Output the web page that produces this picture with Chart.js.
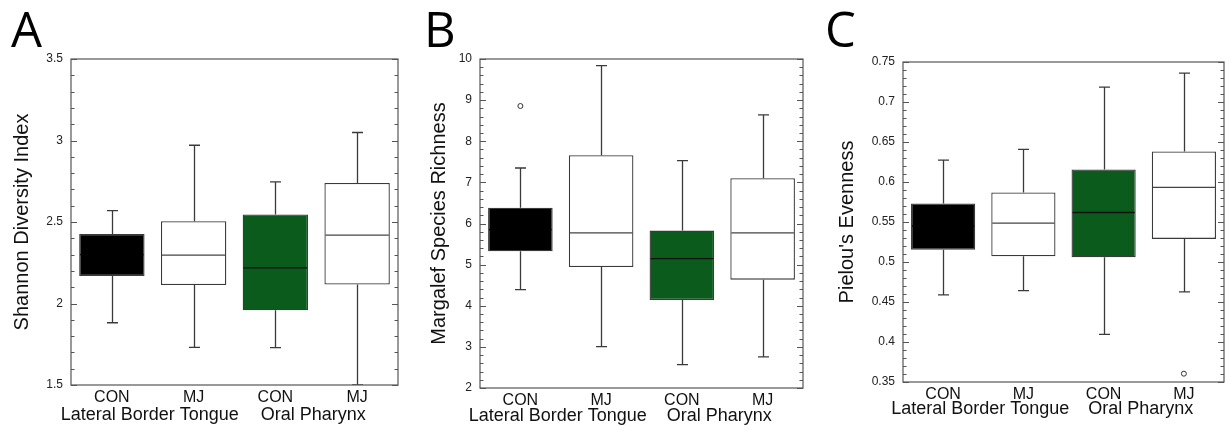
<!DOCTYPE html>
<html>
<head>
<meta charset="utf-8">
<script src="https://cdn.jsdelivr.net/npm/chart.js@4.4.1/dist/chart.umd.min.js"></script>
<style>
  html, body { margin: 0; padding: 0; background: #fff; }
  #wrap { position: relative; width: 1232px; height: 431px; }
  .panel { position: absolute; top: 0; height: 431px; }
</style>
</head>
<body>
<div id="wrap">
  <div class="panel" style="left:0;width:410px"><canvas id="chartA"></canvas></div>
  <div class="panel" style="left:410px;width:410px"><canvas id="chartB"></canvas></div>
  <div class="panel" style="left:820px;width:412px"><canvas id="chartC"></canvas></div>
</div>
<script>
// categorias y grupos
const categories = ['CON', 'MJ', 'CON', 'MJ'];
const groups = ['Lateral Border Tongue', 'Oral Pharynx'];
const boxColors = ['#000000', '#ffffff', '#0b5c1c', '#ffffff'];
const medianColors = ['#000000', '#444444', '#111111', '#444444'];

// A - Shannon
const shannonLow = [1.882, 1.731, 1.729, 1.50];
const shannonQ1 = [2.168, 2.113, 1.958, 2.117];
const shannonMedian = [2.30, 2.297, 2.219, 2.419];
const shannonQ3 = [2.427, 2.505, 2.546, 2.740];
const shannonHigh = [2.570, 2.971, 2.746, 3.049];
const shannonOutliers = [null, null, null, null];
const shannonTicks = [1.5, 3.5, 0.5, 0.1]; // min, max, paso, paso menor

// B - Margalef
const richLow = [4.392, 3.007, 2.569, 2.755];
const richQ1 = [5.324, 4.943, 4.141, 4.635];
const richMedian = [5.85, 5.77, 5.146, 5.77];
const richQ3 = [6.386, 7.658, 5.827, 7.099];
const richHigh = [7.35, 9.838, 7.528, 8.639];
const richOutliers = [8.857, null, null, null];
const richTicks = [2, 10, 1, 0.2];

// C - Pielou
const evenLow = [0.4589, 0.4643, 0.4096, 0.4626];
const evenQ1 = [0.5152, 0.5072, 0.5060, 0.5289];
const evenMedian = [0.545, 0.5485, 0.5619, 0.5932];
const evenQ3 = [0.5731, 0.5869, 0.6157, 0.6382];
const evenHigh = [0.6274, 0.6407, 0.7187, 0.7362];
const evenOutliers = [null, null, null, 0.3604];
const evenTicks = [0.35, 0.75, 0.05, 0.01];

const FONT = '"Liberation Sans", Arial, Helvetica, sans-serif';

// bigotes, medianas, marco y etiquetas de grupo
const boxExtras = {
    id: 'boxExtras',
    afterDatasetsDraw(chart, args, o) {
        const { ctx, chartArea: a, scales: { x, y } } = chart;
        const meta = chart.getDatasetMeta(0);
        ctx.save();

        ctx.save();
        ctx.beginPath();
        ctx.rect(a.left, a.top, a.right - a.left, a.bottom - a.top);
        ctx.clip();
        ctx.lineWidth = 1.3;
        o.q1.forEach((q1, i) => {
            const cx = Math.round(x.getPixelForValue(i)) + 0.5;
            const yLo = y.getPixelForValue(o.low[i]);
            const yQ1 = y.getPixelForValue(q1);
            const yQ3 = y.getPixelForValue(o.q3[i]);
            const yHi = y.getPixelForValue(o.high[i]);
            ctx.strokeStyle = '#3a3a3a';
            ctx.beginPath();
            ctx.moveTo(cx, yQ3); ctx.lineTo(cx, yHi);
            ctx.moveTo(cx - 5.5, yHi); ctx.lineTo(cx + 5.5, yHi);
            ctx.moveTo(cx, yQ1); ctx.lineTo(cx, yLo);
            ctx.moveTo(cx - 5.5, yLo); ctx.lineTo(cx + 5.5, yLo);
            ctx.stroke();
            const bar = meta.data[i];
            const ym = y.getPixelForValue(o.median[i]);
            ctx.strokeStyle = medianColors[i];
            ctx.beginPath();
            ctx.moveTo(bar.x - bar.width / 2 + 1, ym);
            ctx.lineTo(bar.x + bar.width / 2 - 1, ym);
            ctx.stroke();
        });
        ctx.restore();

        // marco
        ctx.strokeStyle = '#555';
        ctx.lineWidth = 1.2;
        ctx.strokeRect(a.left, a.top, a.right - a.left, a.bottom - a.top);

        // marcas hacia dentro
        ctx.beginPath();
        const n = Math.round((y.max - y.min) / o.minor);
        for (let k = 0; k <= n; k++) {
            const v = y.min + k * o.minor;
            const py = Math.round(y.getPixelForValue(v)) + 0.5;
            const r = v / o.major;
            const len = Math.abs(r - Math.round(r)) < 1e-6 ? 6 : 3.5;
            ctx.moveTo(a.left, py); ctx.lineTo(a.left + len, py);
            ctx.moveTo(a.right, py); ctx.lineTo(a.right - len, py);
        }
        ctx.stroke();

        // grupos
        ctx.fillStyle = '#111';
        ctx.font = '18px ' + FONT;
        ctx.textAlign = 'center';
        ctx.textBaseline = 'alphabetic';
        groups.forEach((g, j) => {
            const gx = (x.getPixelForValue(2 * j) + x.getPixelForValue(2 * j + 1)) / 2;
            ctx.fillText(g, gx - 3, a.bottom + o.groupOffset);
        });

        // letra del panel
        ctx.fillStyle = '#000';
        ctx.font = '400 49px "Open Sans", ' + FONT;
        ctx.textAlign = 'left';
        ctx.fillText(o.letter, o.letterX, 47);
        ctx.restore();
    }
};

function crearPanel(id, p) {
    const ctx = document.getElementById(id).getContext('2d');
    return new Chart(ctx, {
        type: 'bar',
        data: {
            labels: categories,
            datasets: [{
                data: p.q1.map((v, i) => [v, p.q3[i]]),
                backgroundColor: boxColors,
                borderColor: '#3a3a3a',
                borderWidth: 1.3,
                borderSkipped: false,
                barPercentage: 0.8,
                categoryPercentage: 1.0
            }, {
                type: 'line',
                data: p.outliers,
                showLine: false,
                pointRadius: 2.5,
                pointBackgroundColor: '#fff',
                pointBorderColor: '#333',
                pointBorderWidth: 1
            }]
        },
        options: {
            responsive: true,
            maintainAspectRatio: false,
            animation: false,
            events: [],
            layout: { padding: { top: p.top, right: p.right, left: 0, bottom: 0 } },
            plugins: {
                legend: { display: false },
                tooltip: { enabled: false },
                boxExtras: {
                    low: p.low, q1: p.q1, median: p.median, q3: p.q3, high: p.high,
                    major: p.ticks[2], minor: p.ticks[3],
                    letter: p.letter, letterX: p.letterX, groupOffset: p.groupOffset
                }
            },
            scales: {
                x: {
                    grid: { display: false, drawTicks: false },
                    border: { display: false },
                    ticks: { color: '#111', padding: 3, font: { family: FONT, size: 16 } },
                    afterFit: s => { s.height = p.xHeight; }
                },
                y: {
                    min: p.ticks[0],
                    max: p.ticks[1],
                    grid: { display: false, drawTicks: false },
                    border: { display: false },
                    ticks: {
                        stepSize: p.ticks[2],
                        color: '#222',
                        padding: 8,
                        font: { family: FONT, size: 12 },
                        callback: v => String(parseFloat(v.toFixed(3)))
                    },
                    title: {
                        display: true,
                        text: p.title,
                        color: '#111',
                        font: { family: FONT, size: 20 },
                        padding: { top: p.titlePad, bottom: 0 }
                    },
                    afterFit: s => { s.width = p.yWidth; }
                }
            }
        },
        plugins: [boxExtras]
    });
}

crearPanel('chartA', {
    low: shannonLow, q1: shannonQ1, median: shannonMedian, q3: shannonQ3, high: shannonHigh,
    outliers: shannonOutliers, ticks: shannonTicks, title: 'Shannon Diversity Index',
    letter: 'A', letterX: 11, top: 59, right: 12, yWidth: 71, xHeight: 46, titlePad: 10, groupOffset: 35
});
crearPanel('chartB', {
    low: richLow, q1: richQ1, median: richMedian, q3: richQ3, high: richHigh,
    outliers: richOutliers, ticks: richTicks, title: 'Margalef Species Richness',
    letter: 'B', letterX: 14, top: 59, right: 17, yWidth: 70, xHeight: 43, titlePad: 17, groupOffset: 33
});
crearPanel('chartC', {
    low: evenLow, q1: evenQ1, median: evenMedian, q3: evenQ3, high: evenHigh,
    outliers: evenOutliers, ticks: evenTicks, title: "Pielou's Evenness",
    letter: 'C', letterX: 5, top: 62, right: 8, yWidth: 83, xHeight: 49, titlePad: 15, groupOffset: 32
});
</script>
</body>
</html>
